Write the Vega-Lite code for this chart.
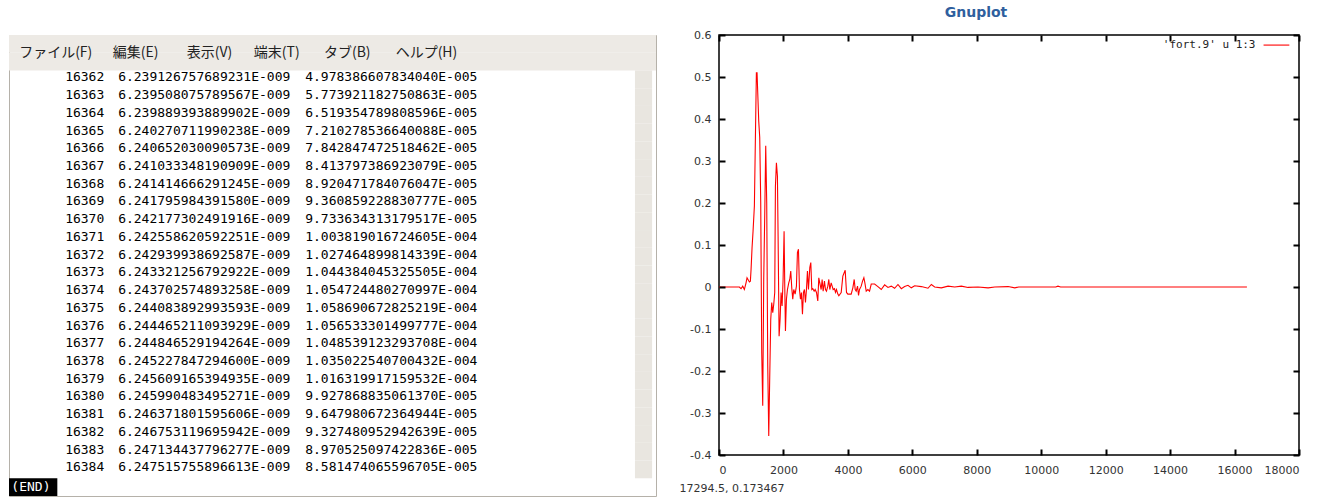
{
  "$schema": "https://vega.github.io/schema/vega-lite/v6.json",
  "background": "white",
  "padding": {"left": 8, "top": 5, "right": 5, "bottom": 0},
  "bounds": "flush",
  "spacing": 63,
  "datasets": {
    "table": [
      {"n": "16362", "t": "6.239126757689231E-009", "v": "4.978386607834040E-005"},
      {"n": "16363", "t": "6.239508075789567E-009", "v": "5.773921182750863E-005"},
      {"n": "16364", "t": "6.239889393889902E-009", "v": "6.519354789808596E-005"},
      {"n": "16365", "t": "6.240270711990238E-009", "v": "7.210278536640088E-005"},
      {"n": "16366", "t": "6.240652030090573E-009", "v": "7.842847472518462E-005"},
      {"n": "16367", "t": "6.241033348190909E-009", "v": "8.413797386923079E-005"},
      {"n": "16368", "t": "6.241414666291245E-009", "v": "8.920471784076047E-005"},
      {"n": "16369", "t": "6.241795984391580E-009", "v": "9.360859228830777E-005"},
      {"n": "16370", "t": "6.242177302491916E-009", "v": "9.733634313179517E-005"},
      {"n": "16371", "t": "6.242558620592251E-009", "v": "1.003819016724605E-004"},
      {"n": "16372", "t": "6.242939938692587E-009", "v": "1.027464899814339E-004"},
      {"n": "16373", "t": "6.243321256792922E-009", "v": "1.044384045325505E-004"},
      {"n": "16374", "t": "6.243702574893258E-009", "v": "1.054724480270997E-004"},
      {"n": "16375", "t": "6.244083892993593E-009", "v": "1.058690672825219E-004"},
      {"n": "16376", "t": "6.244465211093929E-009", "v": "1.056533301499777E-004"},
      {"n": "16377", "t": "6.244846529194264E-009", "v": "1.048539123293708E-004"},
      {"n": "16378", "t": "6.245227847294600E-009", "v": "1.035022540700432E-004"},
      {"n": "16379", "t": "6.245609165394935E-009", "v": "1.016319917159532E-004"},
      {"n": "16380", "t": "6.245990483495271E-009", "v": "9.927868835061370E-005"},
      {"n": "16381", "t": "6.246371801595606E-009", "v": "9.647980672364944E-005"},
      {"n": "16382", "t": "6.246753119695942E-009", "v": "9.327480952942639E-005"},
      {"n": "16383", "t": "6.247134437796277E-009", "v": "8.970525097422836E-005"},
      {"n": "16384", "t": "6.247515755896613E-009", "v": "8.581474065596705E-005"}
    ],
    "menu": [
      {"n": "menu", "label": "ファイル(F)", "item": 1},
      {"n": "menu", "label": "編集(E)", "item": 2},
      {"n": "menu", "label": "表示(V)", "item": 3},
      {"n": "menu", "label": "端末(T)", "item": 4},
      {"n": "menu", "label": "タブ(B)", "item": 5},
      {"n": "menu", "label": "ヘルプ(H)", "item": 6}
    ],
    "wave": [
      {"i": 1, "val": 0}, {"i": 632, "val": 0}, {"i": 684, "val": -0.004}, {"i": 736, "val": 0.002},
      {"i": 787, "val": -0.006}, {"i": 839, "val": 0.01}, {"i": 870, "val": 0.022}, {"i": 943, "val": 0.012},
      {"i": 974, "val": 0.014}, {"i": 995, "val": 0.042}, {"i": 1026, "val": 0.094}, {"i": 1057, "val": 0.133},
      {"i": 1098, "val": 0.193}, {"i": 1129, "val": 0.352}, {"i": 1160, "val": 0.51}, {"i": 1181, "val": 0.51},
      {"i": 1202, "val": 0.463}, {"i": 1233, "val": 0.395}, {"i": 1264, "val": 0.356}, {"i": 1295, "val": 0.2},
      {"i": 1326, "val": -0.156}, {"i": 1357, "val": -0.283}, {"i": 1388, "val": 0.018}, {"i": 1419, "val": 0.169},
      {"i": 1450, "val": 0.336}, {"i": 1481, "val": 0.2}, {"i": 1513, "val": -0.188}, {"i": 1544, "val": -0.355},
      {"i": 1575, "val": -0.212}, {"i": 1606, "val": -0.077}, {"i": 1637, "val": -0.037}, {"i": 1668, "val": -0.061},
      {"i": 1699, "val": -0.041}, {"i": 1730, "val": -0.013}, {"i": 1751, "val": 0.24}, {"i": 1782, "val": 0.296},
      {"i": 1813, "val": 0.264}, {"i": 1834, "val": 0.121}, {"i": 1865, "val": -0.117}, {"i": 1896, "val": -0.077},
      {"i": 1927, "val": -0.013}, {"i": 1958, "val": -0.045}, {"i": 1989, "val": 0.018}, {"i": 2020, "val": 0.133},
      {"i": 2041, "val": 0.002}, {"i": 2062, "val": -0.105}, {"i": 2093, "val": -0.029}, {"i": 2124, "val": -0.006},
      {"i": 2165, "val": 0.01}, {"i": 2196, "val": 0.018}, {"i": 2227, "val": 0.038}, {"i": 2258, "val": -0.002},
      {"i": 2289, "val": -0.029}, {"i": 2320, "val": -0.006}, {"i": 2362, "val": -0.017}, {"i": 2403, "val": 0.002},
      {"i": 2434, "val": 0.082}, {"i": 2466, "val": 0.09}, {"i": 2497, "val": -0.006}, {"i": 2528, "val": -0.029},
      {"i": 2559, "val": -0.013}, {"i": 2590, "val": -0.065}, {"i": 2621, "val": -0.013}, {"i": 2652, "val": -0.006},
      {"i": 2683, "val": -0.037}, {"i": 2714, "val": -0.006}, {"i": 2745, "val": 0.038}, {"i": 2776, "val": -0.006},
      {"i": 2818, "val": 0.046}, {"i": 2849, "val": 0.058}, {"i": 2880, "val": -0.006}, {"i": 2911, "val": -0.004},
      {"i": 2953, "val": -0.01}, {"i": 2984, "val": -0.006}, {"i": 3025, "val": -0.013}, {"i": 3066, "val": -0.033},
      {"i": 3097, "val": 0.022}, {"i": 3128, "val": 0.01}, {"i": 3170, "val": -0.006}, {"i": 3201, "val": 0.018},
      {"i": 3232, "val": -0.01}, {"i": 3273, "val": 0.014}, {"i": 3304, "val": -0.006}, {"i": 3336, "val": -0.01},
      {"i": 3377, "val": 0.002}, {"i": 3408, "val": 0.018}, {"i": 3439, "val": -0.006}, {"i": 3481, "val": 0.01},
      {"i": 3512, "val": 0.002}, {"i": 3543, "val": -0.006}, {"i": 3584, "val": -0.004}, {"i": 3615, "val": -0.013},
      {"i": 3646, "val": -0.006}, {"i": 3688, "val": -0.017}, {"i": 3719, "val": -0.021}, {"i": 3792, "val": -0.013},
      {"i": 3843, "val": 0.026}, {"i": 3885, "val": 0.034}, {"i": 3916, "val": 0.04}, {"i": 3957, "val": -0.013},
      {"i": 3999, "val": -0.017}, {"i": 4102, "val": -0.017}, {"i": 4154, "val": -0.002}, {"i": 4196, "val": 0.018},
      {"i": 4227, "val": -0.006}, {"i": 4258, "val": -0.01}, {"i": 4299, "val": 0.002}, {"i": 4330, "val": -0.02},
      {"i": 4361, "val": -0.006}, {"i": 4413, "val": 0.002}, {"i": 4455, "val": 0.014}, {"i": 4496, "val": 0.022},
      {"i": 4527, "val": 0.01}, {"i": 4569, "val": -0.01}, {"i": 4620, "val": -0.006}, {"i": 4672, "val": -0.01},
      {"i": 4725, "val": 0.007}, {"i": 4829, "val": 0.007}, {"i": 4932, "val": 0.001}, {"i": 5036, "val": -0.006},
      {"i": 5140, "val": 0.005}, {"i": 5243, "val": -0.001}, {"i": 5347, "val": 0.002}, {"i": 5450, "val": -0.003},
      {"i": 5554, "val": 0.006}, {"i": 5658, "val": -0.004}, {"i": 5761, "val": 0.001}, {"i": 5865, "val": 0.004},
      {"i": 5968, "val": -0.002}, {"i": 6072, "val": 0.003}, {"i": 6279, "val": 0.001}, {"i": 6486, "val": -0.003},
      {"i": 6590, "val": 0.006}, {"i": 6693, "val": 0}, {"i": 6900, "val": -0.002}, {"i": 7108, "val": 0.002},
      {"i": 7315, "val": 0}, {"i": 7522, "val": 0.002}, {"i": 7729, "val": -0.001}, {"i": 8040, "val": 0},
      {"i": 8351, "val": -0.002}, {"i": 8558, "val": 0}, {"i": 8972, "val": 0.001}, {"i": 9180, "val": -0.002},
      {"i": 9300, "val": 0}, {"i": 10450, "val": 0}, {"i": 10520, "val": 0.002}, {"i": 10600, "val": 0},
      {"i": 16384, "val": 0}
    ]
  },
  "hconcat": [
    {
      "width": 647,
      "height": 461,
      "view": {"stroke": "#b5b1a9", "fill": "white"},
      "encoding": {
        "y": {
          "field": "n",
          "type": "nominal",
          "scale": {
            "type": "band",
            "paddingInner": 0,
            "paddingOuter": 0,
            "domain": ["top", "menu", "16362", "16363", "16364", "16365", "16366", "16367", "16368", "16369", "16370", "16371", "16372", "16373", "16374", "16375", "16376", "16377", "16378", "16379", "16380", "16381", "16382", "16383", "16384", "END"]
          },
          "axis": null
        }
      },
      "layer": [
        {
          "data": {"values": [{"n": "top"}, {"n": "menu"}]},
          "mark": {"type": "bar", "color": "#edeae5"}
        },
        {
          "data": {"name": "table"},
          "mark": {"type": "bar", "color": "#e9e6e0"},
          "encoding": {
            "x": {"datum": 80.3, "type": "quantitative", "scale": {"domain": [0, 83], "nice": false, "zero": false}, "axis": null},
            "x2": {"datum": 82.5}
          }
        },
        {
          "data": {"name": "menu"},
          "transform": [{"filter": "datum.item == 1"}],
          "mark": {"type": "text", "align": "left", "baseline": "middle", "font": "Noto Sans CJK JP", "fontSize": 14, "color": "#222222"},
          "encoding": {"x": {"datum": 1.3, "type": "quantitative", "axis": null}, "y": {"field": "n", "type": "nominal", "bandPosition": 0, "axis": null}, "text": {"field": "label"}}
        },
        {
          "data": {"name": "menu"},
          "transform": [{"filter": "datum.item == 2"}],
          "mark": {"type": "text", "align": "left", "baseline": "middle", "font": "Noto Sans CJK JP", "fontSize": 14, "color": "#222222"},
          "encoding": {"x": {"datum": 13.3, "type": "quantitative", "axis": null}, "y": {"field": "n", "type": "nominal", "bandPosition": 0, "axis": null}, "text": {"field": "label"}}
        },
        {
          "data": {"name": "menu"},
          "transform": [{"filter": "datum.item == 3"}],
          "mark": {"type": "text", "align": "left", "baseline": "middle", "font": "Noto Sans CJK JP", "fontSize": 14, "color": "#222222"},
          "encoding": {"x": {"datum": 22.8, "type": "quantitative", "axis": null}, "y": {"field": "n", "type": "nominal", "bandPosition": 0, "axis": null}, "text": {"field": "label"}}
        },
        {
          "data": {"name": "menu"},
          "transform": [{"filter": "datum.item == 4"}],
          "mark": {"type": "text", "align": "left", "baseline": "middle", "font": "Noto Sans CJK JP", "fontSize": 14, "color": "#222222"},
          "encoding": {"x": {"datum": 31.4, "type": "quantitative", "axis": null}, "y": {"field": "n", "type": "nominal", "bandPosition": 0, "axis": null}, "text": {"field": "label"}}
        },
        {
          "data": {"name": "menu"},
          "transform": [{"filter": "datum.item == 5"}],
          "mark": {"type": "text", "align": "left", "baseline": "middle", "font": "Noto Sans CJK JP", "fontSize": 14, "color": "#222222"},
          "encoding": {"x": {"datum": 40.4, "type": "quantitative", "axis": null}, "y": {"field": "n", "type": "nominal", "bandPosition": 0, "axis": null}, "text": {"field": "label"}}
        },
        {
          "data": {"name": "menu"},
          "transform": [{"filter": "datum.item == 6"}],
          "mark": {"type": "text", "align": "left", "baseline": "middle", "font": "Noto Sans CJK JP", "fontSize": 14, "color": "#222222"},
          "encoding": {"x": {"datum": 49.6, "type": "quantitative", "axis": null}, "y": {"field": "n", "type": "nominal", "bandPosition": 0, "axis": null}, "text": {"field": "label"}}
        },
        {
          "data": {"name": "table"},
          "mark": {"type": "text", "align": "left", "baseline": "middle", "dy": -2, "font": "DejaVu Sans Mono", "fontSize": 13, "color": "#000000"},
          "encoding": {"x": {"datum": 7.2, "type": "quantitative", "axis": null}, "text": {"field": "n"}}
        },
        {
          "data": {"name": "table"},
          "mark": {"type": "text", "align": "left", "baseline": "middle", "dy": -2, "font": "DejaVu Sans Mono", "fontSize": 13, "color": "#000000"},
          "encoding": {"x": {"datum": 14, "type": "quantitative", "axis": null}, "text": {"field": "t"}}
        },
        {
          "data": {"name": "table"},
          "mark": {"type": "text", "align": "left", "baseline": "middle", "dy": -2, "font": "DejaVu Sans Mono", "fontSize": 13, "color": "#000000"},
          "encoding": {"x": {"datum": 38, "type": "quantitative", "axis": null}, "text": {"field": "v"}}
        },
        {
          "data": {"values": [{"n": "END"}]},
          "mark": {"type": "bar", "color": "#000000"},
          "encoding": {"x": {"datum": 0, "type": "quantitative", "axis": null}, "x2": {"datum": 6.2}}
        },
        {
          "data": {"values": [{"n": "END", "label": "(END)"}]},
          "mark": {"type": "text", "align": "left", "baseline": "middle", "font": "DejaVu Sans Mono", "fontSize": 13, "color": "#ffffff"},
          "encoding": {"x": {"datum": 0.3, "type": "quantitative", "axis": null}, "text": {"field": "label"}}
        }
      ]
    },
    {
      "width": 580,
      "height": 420,
      "title": {"text": "Gnuplot", "font": "DejaVu Sans", "fontSize": 14, "fontWeight": "bold", "color": "#2f5f9e", "offset": 9, "dx": -33},
      "view": {"stroke": "#000000", "strokeWidth": 1.5},
      "resolve": {"axis": {"x": "independent", "y": "independent"}},
      "layer": [
        {
          "data": {"name": "wave"},
          "mark": {"type": "line", "color": "#ff0000", "strokeWidth": 1.1},
          "encoding": {
            "x": {
              "field": "i", "type": "quantitative",
              "scale": {"domain": [0, 18000], "nice": false, "zero": false},
              "axis": {
                "values": [0, 2000, 4000, 6000, 8000, 10000, 12000, 14000, 16000, 18000],
                "format": "d", "grid": false, "domain": false, "zindex": 2,
                "ticks": true, "tickSize": -6, "tickWidth": 2, "tickColor": "#000000", "tickOpacity": 1, "labelPadding": 15,
                "labelFont": "DejaVu Sans", "labelFontSize": 11, "labelColor": "#333333",
                "title": "17294.5,  0.173467", "titleAnchor": "start", "titleAlign": "left",
                "titleX": -40, "titleY": 33, "titleBaseline": "middle",
                "titleFont": "DejaVu Sans", "titleFontSize": 11, "titleFontWeight": "normal", "titleColor": "#333333"
              }
            },
            "y": {
              "field": "val", "type": "quantitative",
              "scale": {"domain": [-0.4, 0.6], "nice": false, "zero": false},
              "axis": {
                "values": [-0.4, -0.3, -0.2, -0.1, 0, 0.1, 0.2, 0.3, 0.4, 0.5, 0.6],
                "labelExpr": "datum.value == 0 ? '0' : toString(round(datum.value * 10) / 10)",
                "grid": false, "domain": false, "zindex": 2,
                "ticks": true, "tickSize": -6, "tickWidth": 2, "tickColor": "#000000", "tickOpacity": 1, "labelPadding": 14,
                "labelFont": "DejaVu Sans", "labelFontSize": 11, "labelColor": "#333333",
                "title": null
              }
            }
          }
        },
        {
          "data": {"values": [{}]},
          "mark": {"type": "rule", "color": "#ff0000", "strokeWidth": 1.1},
          "encoding": {
            "x": {
              "datum": 16900, "type": "quantitative",
              "axis": {"orient": "top", "values": [0, 2000, 4000, 6000, 8000, 10000, 12000, 14000, 16000, 18000], "labels": false, "grid": false, "domain": false, "zindex": 2, "ticks": true, "tickSize": -6, "tickWidth": 2, "tickColor": "#000000", "tickOpacity": 1, "title": null}
            },
            "x2": {"datum": 17700},
            "y": {
              "datum": 0.576, "type": "quantitative",
              "axis": {"orient": "right", "values": [-0.4, -0.3, -0.2, -0.1, 0, 0.1, 0.2, 0.3, 0.4, 0.5, 0.6], "labels": false, "grid": false, "domain": false, "zindex": 2, "ticks": true, "tickSize": -6, "tickWidth": 2, "tickColor": "#000000", "tickOpacity": 1, "title": null}
            }
          }
        },
        {
          "data": {"values": [{"label": "'fort.9' u 1:3"}]},
          "mark": {"type": "text", "align": "right", "baseline": "middle", "font": "DejaVu Sans Mono", "fontSize": 11, "color": "#222222"},
          "encoding": {
            "x": {"datum": 16650, "type": "quantitative", "axis": null},
            "y": {"datum": 0.576, "type": "quantitative", "axis": null},
            "text": {"field": "label"}
          }
        }
      ]
    }
  ]
}
